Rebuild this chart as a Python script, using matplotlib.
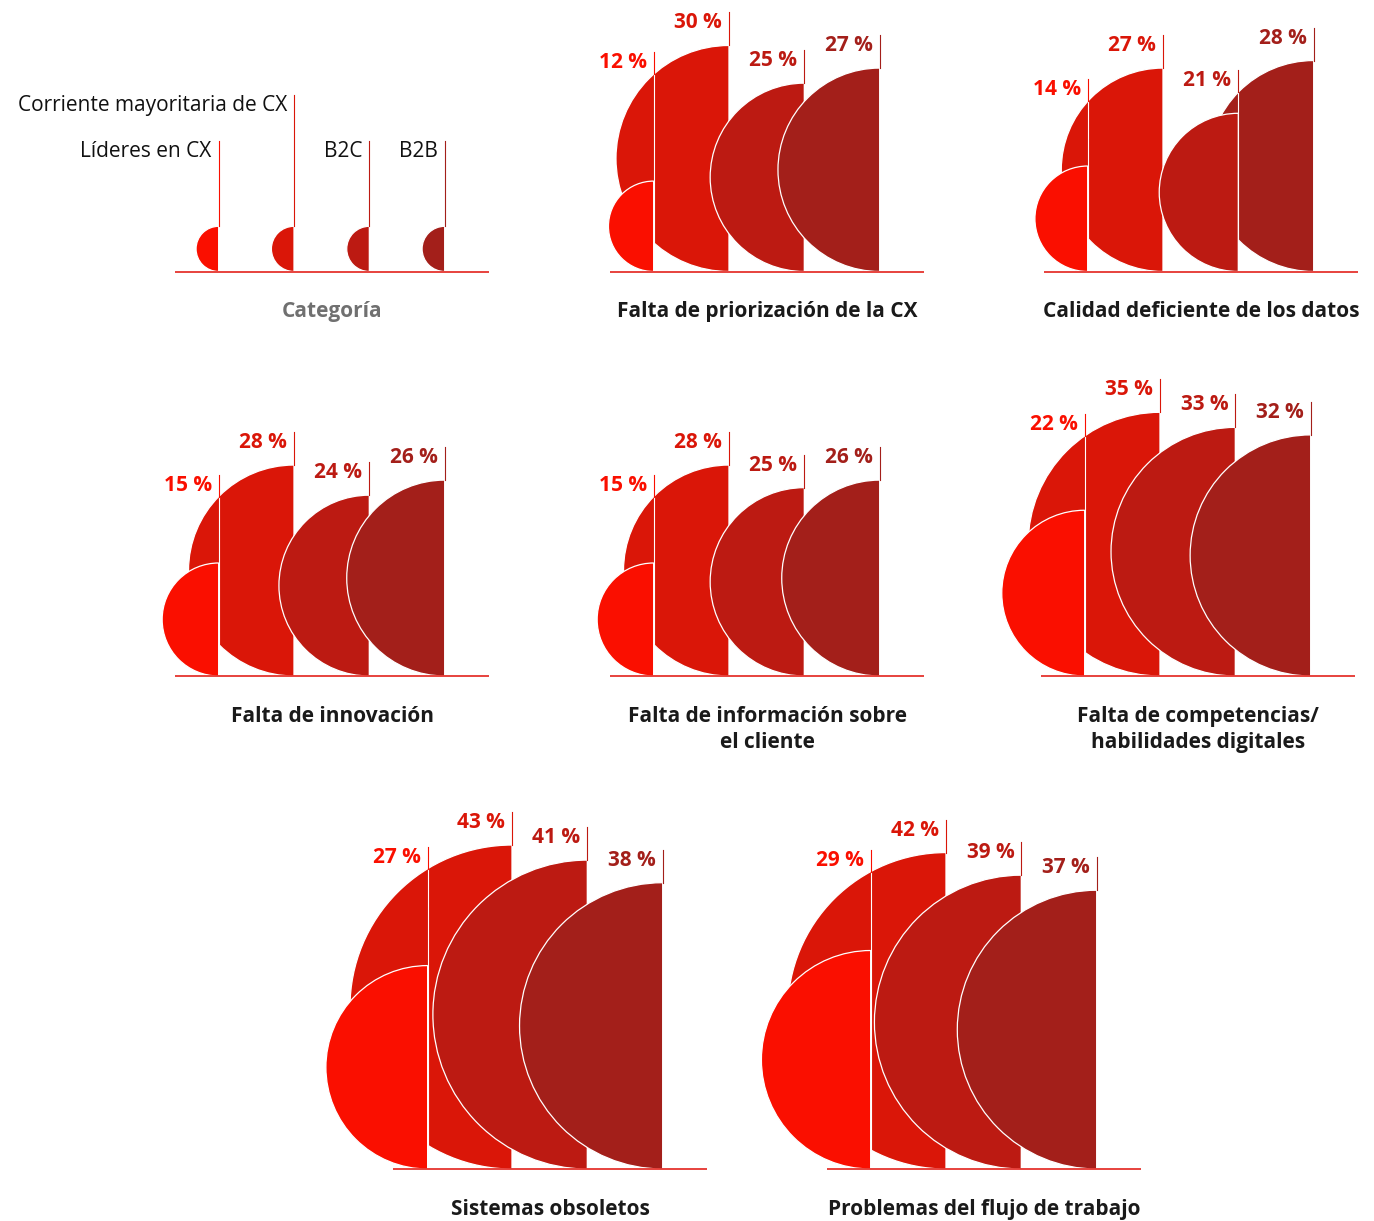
import numpy as np
import matplotlib.pyplot as plt
from matplotlib.patches import Wedge

plt.rcParams['font.family'] = ['Open Sans', 'DejaVu Sans']

# Datos (porcentaje de encuestados)
categorias = ['Falta de priorización de la CX',
              'Calidad deficiente de los datos',
              'Falta de innovación',
              'Falta de información sobre\nel cliente',
              'Falta de competencias/\nhabilidades digitales',
              'Sistemas obsoletos',
              'Problemas del flujo de trabajo']
lideres = [12, 14, 15, 15, 22, 27, 29]
corriente = [30, 27, 28, 28, 35, 43, 42]
b2c = [25, 21, 24, 25, 33, 41, 39]
b2b = [27, 28, 26, 26, 32, 38, 37]

series = ['Líderes en CX', 'Corriente mayoritaria de CX', 'B2C', 'B2B']
colores = ['#FA0F00', '#DA1608', '#BC1A12', '#A31F1A']

W, H = 1374, 1221
s = 3.767  # px por punto porcentual
fs = 15

# posicion de cada panel: x del borde de la 2a serie y linea base (px)
anclas = [(729, 271.5), (1163, 271.5), (294, 676), (729, 676),
          (1160, 676), (512, 1169), (946, 1169)]
ancla_leyenda = (294, 271.5)
desfase_primera = {'Sistemas obsoletos': -22.4}
orden_z = {'Calidad deficiente de los datos': [4, 1, 3, 2]}

fig = plt.figure(figsize=(W / 100, H / 100), dpi=100)


def crear_ejes(ax_px, base_px):
    x0, x1, y0, y1 = -60, 70, -25, 100
    left = ax_px + x0 * s
    right = ax_px + x1 * s
    top = base_px - y1 * s
    bottom = base_px - y0 * s
    ax = fig.add_axes([left / W, 1 - bottom / H, (right - left) / W, (bottom - top) / H])
    ax.set_xlim(x0, x1)
    ax.set_ylim(y0, y1)
    ax.axis('off')
    ax.plot([-31.5, 51.7], [0, 0], color='#E3231C', lw=1.2, zorder=20,
            solid_capstyle='butt')
    return ax


def dibujar_titulo(ax, texto, color):
    for k, linea in enumerate(texto.split('\n')):
        ax.text(10.1, -(45.8 + 26 * k) / s, linea, ha='center', va='baseline',
                fontsize=fs, fontweight='bold', color=color)


def tope_visible(xs, rs, xi):
    tope = 0
    for xj, rj in zip(xs, rs):
        if xj - rj <= xi <= xj:
            tope = max(tope, rj + np.sqrt(rj ** 2 - (xj - xi) ** 2))
    return tope


valores = list(zip(lideres, corriente, b2c, b2b))
for cat, vals, (axp, basep) in zip(categorias, valores, anclas):
    ax = crear_ejes(axp, basep)
    xs = [desfase_primera.get(cat, -20), 0, 20, 40]
    zs = orden_z.get(cat, [4, 1, 2, 3])
    for i, v in enumerate(vals):
        ax.add_patch(Wedge((xs[i], v), v, 90, 270, facecolor=colores[i],
                           edgecolor='white', lw=0.9, zorder=zs[i]))
        vis = tope_visible(xs, vals, xs[i])
        tope = max(2 * v + 33 / s, vis + 22 / s)
        ax.plot([xs[i], xs[i]], [0, vis], color='white', lw=0.8, zorder=zs[i] + 0.5)
        ax.plot([xs[i], xs[i]], [vis, tope], color=colores[i], lw=0.8, zorder=10)
        ax.text(xs[i] - 7 / s, tope - 16 / s, f'{v} %', ha='right', va='baseline',
                fontsize=fs, fontweight='bold', color=colores[i])
    dibujar_titulo(ax, cat, '#1a1a1a')

# Leyenda
ax = crear_ejes(*ancla_leyenda)
xs = [-20, 0, 20, 40]
r_ley = 6
topes_ley = [34.6, 46.9, 34.6, 34.6]
for i, nombre in enumerate(series):
    ax.add_patch(Wedge((xs[i], r_ley), r_ley, 90, 270, facecolor=colores[i],
                       edgecolor='white', lw=0.9, zorder=2))
    ax.plot([xs[i], xs[i]], [2 * r_ley, topes_ley[i]], color=colores[i], lw=0.8, zorder=10)
    ax.text(xs[i] - 7 / s, topes_ley[i] - 16 / s, nombre, ha='right', va='baseline',
            fontsize=fs, color='#111111')
dibujar_titulo(ax, 'Categoría', '#707070')

fig.savefig('out.png', dpi=100)
